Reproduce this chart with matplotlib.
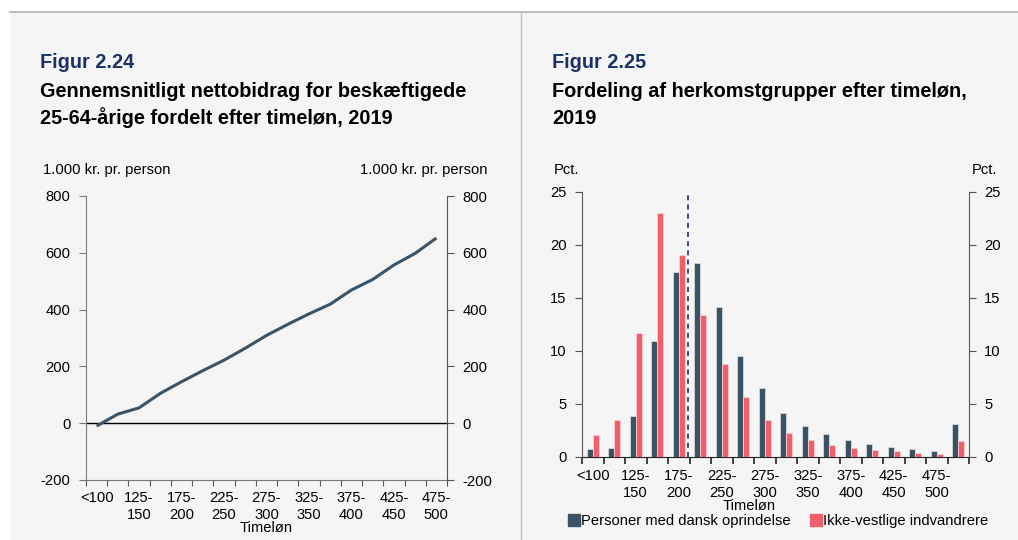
import matplotlib
matplotlib.use("Agg")
import matplotlib.pyplot as plt
from matplotlib.patches import Rectangle
from matplotlib.lines import Line2D
import numpy as np

plt.rcParams['font.family'] = ['Liberation Sans', 'DejaVu Sans']
plt.rcParams['axes.unicode_minus'] = False

# ---- data ----
line_cats = ["<100", "100-125", "125-150", "150-175", "175-200", "200-225", "225-250",
             "250-275", "275-300", "300-325", "325-350", "350-375", "375-400",
             "400-425", "425-450", "450-475", "475-500"]
line_vals = [-10, 32, 54, 105, 146, 185, 222, 264, 309, 348, 385, 419, 469, 506, 557, 598, 652]

bar_cats = line_cats + [">500"]
dansk = [0.75, 0.82, 3.89, 10.93, 17.46, 18.25, 14.13, 9.55, 6.5, 4.15, 2.92, 2.14,
         1.57, 1.22, 0.97, 0.75, 0.57, 3.08]
ikkevest = [2.04, 3.49, 11.68, 22.96, 19.0, 13.35, 8.76, 5.65, 3.49, 2.29, 1.57, 1.16,
            0.85, 0.63, 0.57, 0.38, 0.28, 1.51]
median_pos = 4.45

tick_labels = ["<100", "125-\n150", "175-\n200", "225-\n250", "275-\n300",
               "325-\n350", "375-\n400", "425-\n450", "475-\n500"]
tick_idx = [0, 2, 4, 6, 8, 10, 12, 14, 16]

DARK = '#3b5364'
RED = '#f05f6a'
NAVY = '#1b3168'
BG = '#f5f5f5'
FS = 10.6
TFS = 14.3

fig = plt.figure(figsize=(10.18, 5.4), dpi=100)
fig.patch.set_facecolor('white')
W, H = 1018, 540


def fx(px):
    return px / W


def fy(py):
    return 1 - py / H


# background panel
fig.patches.append(Rectangle((fx(10), 0), 1 - fx(10), fy(12), transform=fig.transFigure,
                             facecolor=BG, edgecolor='none', zorder=-10))
fig.lines.append(Line2D([fx(10), 1], [fy(12), fy(12)], transform=fig.transFigure,
                        color='#b0b0b0', lw=1.2, zorder=-5))
fig.lines.append(Line2D([fx(520.7), fx(520.7)], [0, fy(12)], transform=fig.transFigure,
                        color='#c0c0c0', lw=1.0, zorder=-5))

# titles
fig.text(fx(40), fy(68), "Figur 2.24", color=NAVY, fontsize=TFS, fontweight='bold', va='baseline')
fig.text(fx(40), fy(97), "Gennemsnitligt nettobidrag for beskæftigede", color='black',
         fontsize=TFS, fontweight='bold', va='baseline')
fig.text(fx(40), fy(124), "25-64-årige fordelt efter timeløn, 2019", color='black',
         fontsize=TFS, fontweight='bold', va='baseline')
fig.text(fx(552), fy(68), "Figur 2.25", color=NAVY, fontsize=TFS, fontweight='bold', va='baseline')
fig.text(fx(552), fy(97), "Fordeling af herkomstgrupper efter timeløn,", color='black',
         fontsize=TFS, fontweight='bold', va='baseline')
fig.text(fx(552), fy(124), "2019", color='black', fontsize=TFS, fontweight='bold', va='baseline')


def style_axes(ax, ax2):
    ax.set_facecolor('none')
    ax.spines['top'].set_visible(False)
    ax2.spines['top'].set_visible(False)
    ax.spines['right'].set_visible(False)
    ax.spines['left'].set_color('#7a7a7a')
    ax2.spines['right'].set_color('#555555')
    ax2.spines['left'].set_visible(False)
    ax2.spines['bottom'].set_visible(False)
    ax.tick_params(axis='y', direction='out', length=5, color='#7a7a7a', labelsize=FS, pad=6)
    ax2.tick_params(axis='y', direction='out', length=5, color='#555555', labelsize=FS, pad=6)


# ---- left chart ----
axL = fig.add_axes([fx(86), fy(480), fx(447) - fx(86), fy(196) - fy(480)])
axL2 = axL.twinx()
x = np.arange(len(line_cats))
axL.plot(x, line_vals, color=DARK, lw=2.2, solid_capstyle='butt', zorder=3)
axL.axhline(0, color='black', lw=1.0, zorder=2)
axL.set_xlim(-0.5, len(line_cats) - 0.5)
axL.set_ylim(-200, 800)
axL2.set_ylim(-200, 800)
yt = [-200, 0, 200, 400, 600, 800]
axL.set_yticks(yt)
axL2.set_yticks(yt)
style_axes(axL, axL2)
axL.spines['bottom'].set_color('#7a7a7a')
axL.set_xticks(np.arange(-0.5, len(line_cats), 1.0))
axL.set_xticklabels([])
axL.tick_params(axis='x', direction='out', length=4, color='#555555')
axL.set_xticks(tick_idx, minor=True)
axL.set_xticklabels(tick_labels, minor=True, fontsize=FS, linespacing=1.25)
axL.tick_params(axis='x', which='minor', length=0, pad=8)
fig.text(fx(266), fy(528), "Timeløn", ha='center', va='center', fontsize=FS)
fig.text(fx(43), fy(170), "1.000 kr. pr. person", fontsize=FS, va='center', ha='left')
fig.text(fx(488), fy(170), "1.000 kr. pr. person", fontsize=FS, va='center', ha='right')

# ---- right chart ----
axR = fig.add_axes([fx(582), fy(457), fx(969) - fx(582), fy(191.7) - fy(457)])
axR2 = axR.twinx()
xb = np.arange(len(bar_cats))
bw = 0.28
axR.bar(xb - bw / 2, dansk, width=bw, color=DARK, edgecolor='#d5dbe0', linewidth=0.6,
        label="Personer med dansk oprindelse", zorder=3)
axR.bar(xb + bw / 2, ikkevest, width=bw, color=RED, edgecolor='#f8d0d4', linewidth=0.6,
        label="Ikke-vestlige indvandrere", zorder=3)
axR.axvline(median_pos, ymin=0, ymax=1, color=NAVY, lw=1.2, ls=(0, (3, 2.5)), zorder=4)
axR.set_xlim(-0.5, len(bar_cats) - 0.5)
axR.set_ylim(0, 25)
axR2.set_ylim(0, 25)
ytr = [0, 5, 10, 15, 20, 25]
axR.set_yticks(ytr)
axR2.set_yticks(ytr)
style_axes(axR, axR2)
axR.spines['left'].set_color('#555555')
axR.tick_params(axis='y', color='#555555')
axR.set_xticks(np.arange(-0.5, len(bar_cats), 1.0))
axR.set_xticklabels([])
axR.tick_params(axis='x', direction='out', length=5, color='#222222', width=1.2)
axR.set_xticks(tick_idx, minor=True)
axR.set_xticklabels(tick_labels, minor=True, fontsize=FS, linespacing=1.25)
axR.tick_params(axis='x', which='minor', length=0, pad=9)
axR.spines['bottom'].set_color('#222222')
fig.text(fx(749), fy(506), "Timeløn", fontsize=FS, ha='center', va='center')
fig.text(fx(554), fy(170), "Pct.", fontsize=FS, va='center', ha='left')
fig.text(fx(997), fy(170), "Pct.", fontsize=FS, va='center', ha='right')

leg = fig.legend(handles=[
    Line2D([], [], marker='s', ls='none', color=DARK, markersize=8, label="Personer med dansk oprindelse"),
    Line2D([], [], marker='s', ls='none', color=RED, markersize=8, label="Ikke-vestlige indvandrere")],
    loc='center', bbox_to_anchor=(fx(778), fy(521)), ncol=2, frameon=False, fontsize=FS,
    handletextpad=0.1, columnspacing=1.3, handlelength=0.8, borderpad=0, borderaxespad=0)

fig.savefig("out.png", dpi=100, facecolor=fig.get_facecolor())
